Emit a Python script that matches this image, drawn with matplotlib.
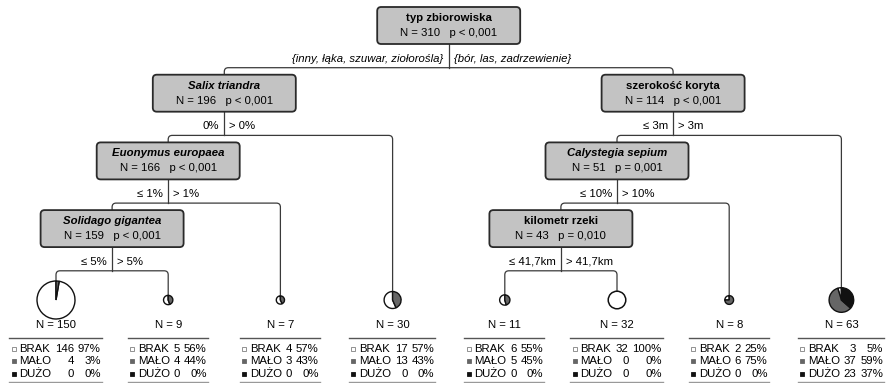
import numpy as np
import matplotlib
matplotlib.use("Agg")
import matplotlib.pyplot as plt
from matplotlib.patches import FancyBboxPatch, Wedge, Circle
from matplotlib.path import Path
from matplotlib.patches import PathPatch

FONT = ["Liberation Sans", "DejaVu Sans"]

# inner (split) nodes
node_ids = ["typ", "salix", "euon", "solid", "szer", "caly", "km"]
node_names = ["typ zbiorowiska", "Salix triandra", "Euonymus europaea",
              "Solidago gigantea", "szerokość koryta", "Calystegia sepium",
              "kilometr rzeki"]
node_italic = [False, True, True, True, False, True, False]
node_n = [310, 196, 166, 159, 114, 51, 43]
node_p = ["< 0,001", "< 0,001", "< 0,001", "< 0,001", "< 0,001", "= 0,001", "= 0,010"]
left_split = ["{inny, łąka, szuwar, ziołorośla}", "0%", "≤ 1%", "≤ 5%",
              "≤ 3m", "≤ 10%", "≤ 41,7km"]
right_split = ["{bór, las, zadrzewienie}", "> 0%", "> 1%", "> 5%",
               "> 3m", "> 10%", "> 41,7km"]
kids = {"typ": ("salix", "szer"), "salix": ("euon", 3), "euon": ("solid", 2),
        "solid": (0, 1), "szer": ("caly", 7), "caly": ("km", 6),
        "km": (4, 5)}

# terminal nodes
categories = ["BRAK", "MAŁO", "DUŻO"]
term_n = [150, 9, 7, 30, 11, 32, 8, 63]
brak = [146, 5, 4, 17, 6, 32, 2, 3]
malo = [4, 4, 3, 13, 5, 0, 6, 37]
duzo = [0, 0, 0, 0, 0, 0, 0, 23]

pie_colors = ["#ffffff", "#666666", "#111111"]
sq_edges = ["#808080", "#666666", "#111111"]
line_col = "#3a3a3a"

W, H = 889, 383
fig = plt.figure(figsize=(W / 100, H / 100), dpi=100)
ax = fig.add_axes([0, 0, 1, 1])
ax.set_xlim(0, W)
ax.set_ylim(H, 0)
ax.axis("off")
renderer = fig.canvas.get_renderer()

FS = 8.2

# layout: terminals equally spaced, inner nodes at mean of their terminals
n_term = len(term_n)
xpos = {i: 56 + 112.2 * i for i in range(n_term)}


def is_leaf(nid):
    return nid not in kids


def terminals(nid):
    if is_leaf(nid):
        return [nid]
    return terminals(kids[nid][0]) + terminals(kids[nid][1])


depth = {"typ": 0}
for nid in node_ids:
    xpos[nid] = np.mean([xpos[t] for t in terminals(nid)])
    for k in kids[nid]:
        depth[k] = depth[nid] + 1

BOX_W, BOX_H = 143, 37
LEVEL = 67.7
PIE_Y = 300
R_SCALE = 19 / np.sqrt(150)


def box_top(d):
    return 7 + LEVEL * d


def pie_r(i):
    return R_SCALE * np.sqrt(term_n[i])


def child_top(nid):
    if is_leaf(nid):
        return PIE_Y - pie_r(nid)
    return box_top(depth[nid])


def text_w(s, **kw):
    t = ax.text(0, 0, s, **kw)
    w = t.get_window_extent(renderer).width
    t.remove()
    return w


# connectors and split labels
for i, nid in enumerate(node_ids):
    d = depth[nid]
    px = xpos[nid]
    yh = box_top(d + 1) - 7
    ax.plot([px, px], [box_top(d) + BOX_H, yh], color=line_col, lw=0.9, zorder=1)
    lk, rk = kids[nid]
    xl, xr = xpos[lk], xpos[rk]
    rc = 4
    verts = [(xl, child_top(lk)), (xl, yh + rc), (xl, yh), (xl + rc, yh),
             (xr - rc, yh), (xr, yh), (xr, yh + rc), (xr, child_top(rk))]
    codes = [Path.MOVETO, Path.LINETO, Path.CURVE3, Path.CURVE3,
             Path.LINETO, Path.CURVE3, Path.CURVE3, Path.LINETO]
    ax.add_patch(PathPatch(Path(verts, codes), fill=False, edgecolor=line_col,
                           lw=0.9, zorder=1))
    style = "italic" if i == 0 else "normal"
    ax.text(px - 5, yh - 9, left_split[i], ha="right", va="center",
            fontsize=FS, family=FONT, style=style)
    ax.text(px + 5, yh - 9, right_split[i], ha="left", va="center",
            fontsize=FS, family=FONT, style=style)

# inner node boxes
for i, nid in enumerate(node_ids):
    top = box_top(depth[nid])
    cx = xpos[nid]
    ax.add_patch(FancyBboxPatch((cx - BOX_W / 2, top), BOX_W, BOX_H,
                                boxstyle="round,pad=0,rounding_size=4",
                                facecolor="#c3c3c3", edgecolor="#2a2a2a",
                                lw=1.3, zorder=2))
    ax.text(cx, top + 11, node_names[i], ha="center", va="center", fontsize=FS,
            family=FONT, weight="bold",
            style="italic" if node_italic[i] else "normal", zorder=3)
    ax.text(cx, top + 26, f"N = {node_n[i]}   p {node_p[i]}", ha="center",
            va="center", fontsize=FS, family=FONT, zorder=3)

# terminal nodes: pies and tables
for i in range(n_term):
    cx = xpos[i]
    counts = [brak[i], malo[i], duzo[i]]
    shares = [c / term_n[i] for c in counts]
    r = pie_r(i)
    if max(shares) == 1:
        j = shares.index(1)
        ax.add_patch(Circle((cx, PIE_Y), r, facecolor=pie_colors[j],
                            edgecolor="#111111", lw=1.1, zorder=2))
    else:
        a = 90.0
        for j, s in enumerate(shares):
            if s == 0:
                continue
            a2 = a + 360 * s
            # y axis is inverted, so screen-ccw angles are negated
            ax.add_patch(Wedge((cx, PIE_Y), r, -a2, -a, facecolor=pie_colors[j],
                               edgecolor="#111111", lw=1.0, zorder=2))
            a = a2

    ax.text(cx, 325, f"N = {term_n[i]}", ha="center", va="center",
            fontsize=FS, family=FONT)

    cnt_s = [str(c) for c in counts]
    pct_s = [f"{round(100 * s)}%" for s in shares]
    kw = dict(fontsize=FS, family=FONT)
    wl = max(text_w(s, **kw) for s in categories)
    wc = max(text_w(s, **kw) for s in cnt_s)
    wp = max(text_w(s, **kw) for s in pct_s)
    sp = text_w("a", **kw) * 0.6
    tw = 8 + wl + sp + wc + sp + wp
    left = cx - tw / 2
    ax.plot([left - 2, left + tw + 1], [338, 338], color="#555555", lw=1.0)
    ax.plot([left - 2, left + tw + 1], [382, 382], color="#999999", lw=1.0)
    for j, cat in enumerate(categories):
        y = 349 + 12.3 * j
        ax.plot(left + 2.5, y, marker="s", ms=3.2, mfc=pie_colors[j],
                mec=sq_edges[j], mew=0.6)
        ax.text(left + 8, y, cat, ha="left", va="center", **kw)
        ax.text(left + 8 + wl + sp + wc, y, cnt_s[j], ha="right", va="center", **kw)
        ax.text(left + tw, y, pct_s[j], ha="right", va="center", **kw)

fig.savefig("out.png", dpi=100)
